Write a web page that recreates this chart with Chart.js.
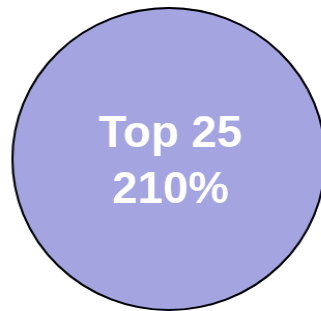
<!DOCTYPE html>
<html>
<head>
<meta charset="utf-8">
<script src="https://cdn.jsdelivr.net/npm/chart.js@4/dist/chart.umd.min.js"></script>
<style>
  html,body{margin:0;padding:0;background:#fff;overflow:hidden;}
  #wrap{width:321px;height:311px;transform:scaleX(1.036);transform-origin:0 0;}
</style>
</head>
<body>
<div id="wrap"><canvas id="c" width="321" height="311"></canvas></div>
<script>
/* ---- DATA ---- */
const labels = ["Top 25"];
const values = [210];
const valueText = ["210%"];

// 외곽선 + 중앙 텍스트 — 단일 조각 파이의 반지름 선을 피하려고 직접 그림
const ringAndText = {
  id: "ringAndText",
  afterDatasetsDraw(chart){
    const arc = chart.getDatasetMeta(0).data[0];
    const ctx = chart.ctx;
    ctx.save();
    ctx.beginPath();
    ctx.arc(arc.x, arc.y, arc.outerRadius - 1, 0, Math.PI*2);
    ctx.lineWidth = 2;
    ctx.strokeStyle = "#000000";
    ctx.stroke();

    ctx.fillStyle = "#ffffff";
    ctx.textAlign = "center";
    ctx.textBaseline = "alphabetic";
    ctx.font = "bold 44px 'Liberation Sans', Arial, sans-serif";
    ctx.fillText(labels[0], arc.x + 1.5, arc.y - 12);
    ctx.fillText(valueText[0], arc.x + 1.5, arc.y + 44);
    ctx.restore();
  }
};

new Chart(document.getElementById("c"), {
  type: "pie",
  data: {
    labels,
    datasets: [{
      data: values,
      backgroundColor: ["#a4a4e0"],
      borderWidth: 0,
    }]
  },
  options: {
    responsive: false,
    animation: false,
    layout: {padding: {top: 7, bottom: 0, left: 11, right: 6}},
    plugins: {legend: {display: false}, tooltip: {enabled: false}}
  },
  plugins: [ringAndText]
});
</script>
</body>
</html>
